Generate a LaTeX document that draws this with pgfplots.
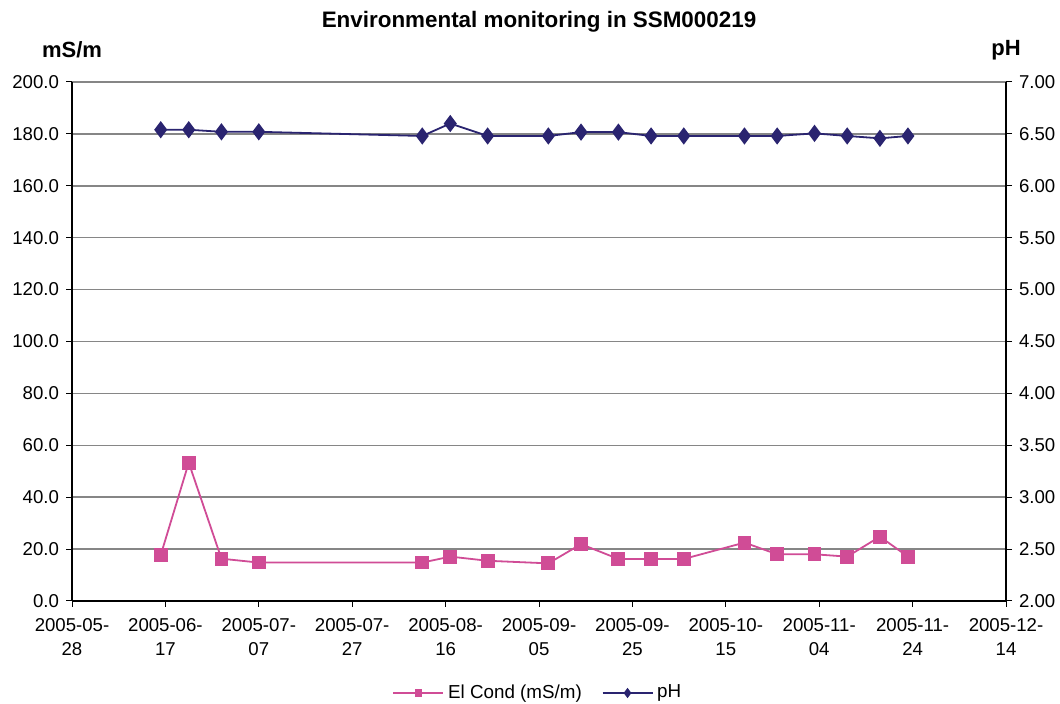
\documentclass[border=0pt]{standalone}
\usepackage{pgfplots}
\pgfplotsset{compat=1.18}
\usepackage{fontspec}
\setmainfont{Liberation Sans}

\definecolor{condcol}{RGB}{208,76,150}
\definecolor{phcol}{RGB}{42,36,112}
\definecolor{gridcol}{RGB}{134,134,134}

% days counted from 2005-05-28
\pgfplotstableread{
day cond
19  17.7
25  53.3
32  16.3
40  14.8
75  14.8
81  17.1
89  15.5
102 14.5
109 21.9
117 16.2
124 16.2
131 16.2
144 22.5
151 18.0
159 18.0
166 17.1
173 24.8
179 17.1
}\condtable

\pgfplotstableread{
day ph
19  6.54
25  6.54
32  6.52
40  6.52
75  6.48
81  6.60
89  6.48
102 6.48
109 6.517
117 6.517
124 6.48
131 6.48
144 6.48
151 6.48
159 6.505
166 6.48
173 6.457
179 6.48
}\phtable

\pgfplotsset{
  base/.style={
    scale only axis, width=467pt, height=259.5pt,
    at={(0,0)}, anchor=south west,
    xmin=0, xmax=200,
    font=\fontsize{9.3}{12}\selectfont,
    /pgf/number format/assume math mode=true,
    tick style={black, line width=0.5pt},
    tick align=outside, major tick length=3pt,
    axis line style={black, line width=0.6pt},
  },
  condstyle/.style={condcol, line width=0.9pt, mark=square*, mark size=3pt, mark options={solid, fill=condcol}},
  phstyle/.style={phcol, line width=0.9pt, mark=diamond*, mark size=3.6pt, mark options={solid, fill=phcol}},
}

\begin{document}
\begin{tikzpicture}
\path[use as bounding box] (-36pt,-51.5pt) rectangle (494pt,300.5pt);

\begin{axis}[base,
  axis x line*=bottom, axis y line*=left,
  ymin=0, ymax=200, ytick distance=20,
  ymajorgrids, grid style={gridcol, line width=0.75pt},
  yticklabel style={/pgf/number format/.cd, fixed, fixed zerofill, precision=1},
  xtick={0,20,...,200},
  xticklabels={{2005-05-\\28},{2005-06-\\17},{2005-07-\\07},{2005-07-\\27},{2005-08-\\16},{2005-09-\\05},{2005-09-\\25},{2005-10-\\15},{2005-11-\\04},{2005-11-\\24},{2005-12-\\14}},
  xticklabel style={align=center, yshift=-2pt},
  title={Environmental monitoring in SSM000219},
  title style={at={(rel axis cs:0.5,1)}, anchor=center, yshift=24pt, font=\bfseries\fontsize{11.2}{13}\selectfont},
  legend style={at={(axis description cs:0.5,-0.1773)}, anchor=center, draw=none, legend columns=-1,
    font=\fontsize{9.4}{11}\selectfont,
    /tikz/every even column/.append style={column sep=8pt}},
  legend image code/.code={\draw[mark repeat=2, mark phase=2, #1] plot coordinates {(0pt,0pt) (12.5pt,0pt) (25pt,0pt)};},
  clip=false,
]
\addplot[condstyle, forget plot] table[x=day, y=cond] {\condtable};
\addlegendimage{condcol, line width=0.7pt, mark=square*, mark size=1.6pt, mark options={solid, fill=condcol}}
\addlegendentry{El Cond (mS/m)}
\addlegendimage{phcol, line width=0.7pt, mark=diamond*, mark size=2pt, mark options={solid, fill=phcol}}
\addlegendentry{pH}
\node[font=\bfseries\fontsize{11}{13}\selectfont] at (rel axis cs:0,1) [yshift=16pt] {mS/m};
\end{axis}

\begin{axis}[base,
  axis x line=none, axis y line*=right,
  ymin=2, ymax=7, ytick distance=0.5,
  yticklabel style={/pgf/number format/.cd, fixed, fixed zerofill, precision=2},
  clip=false,
]
\addplot[phstyle] table[x=day, y=ph] {\phtable};
\node[font=\bfseries\fontsize{11}{13}\selectfont] at (rel axis cs:1,1) [yshift=16pt] {pH};
\end{axis}
\end{tikzpicture}
\end{document}
